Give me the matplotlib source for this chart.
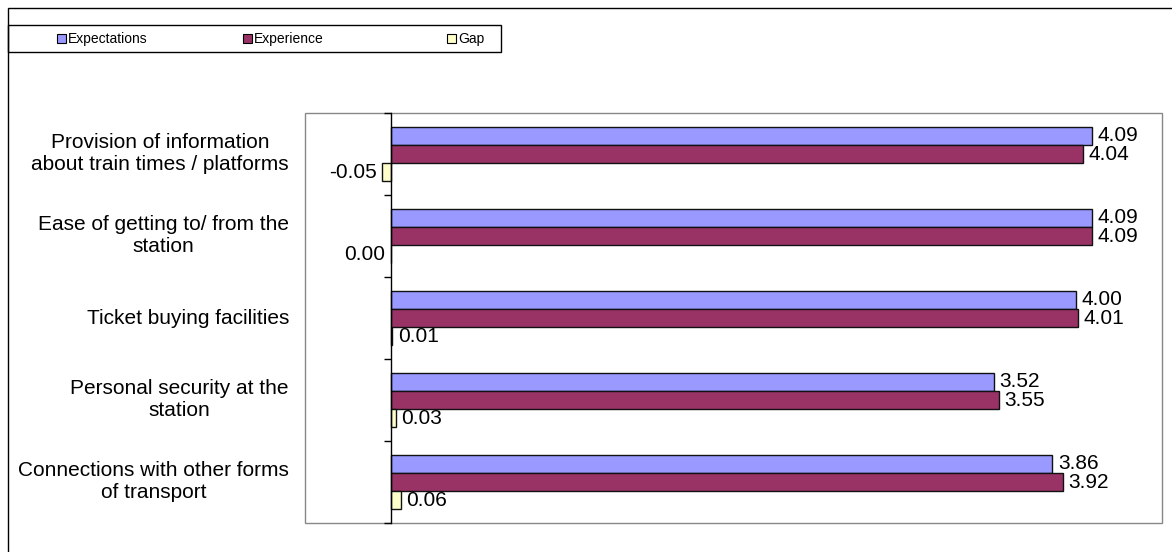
import matplotlib
matplotlib.use("Agg")
import matplotlib.pyplot as plt
import matplotlib.transforms as mtransforms
from matplotlib.patches import Rectangle
import numpy as np

plt.rcParams['font.family'] = ['Liberation Sans', 'DejaVu Sans']

# Data
categories = [
    "Provision of information\nabout train times / platforms",
    "Ease of getting to/ from the\nstation",
    "Ticket buying facilities",
    "Personal security at the\nstation",
    "Connections with other forms\nof transport",
]
expectations = [4.09, 4.09, 4.00, 3.52, 3.86]
experience = [4.04, 4.09, 4.01, 3.55, 3.92]
gap = [-0.05, 0.00, 0.01, 0.03, 0.06]
series_names = ["Expectations", "Experience", "Gap"]
series_colors = ["#9999FF", "#993366", "#FFFFCC"]

W, H = 1172, 552
fig = plt.figure(figsize=(W / 100, H / 100), dpi=100)

# Outer chart frame
fig.patches.append(Rectangle((8 / W, -0.05), 1.1, 1 - 8 / H + 0.05,
                             transform=fig.transFigure, fill=False,
                             edgecolor="black", linewidth=1.0))

# Plot area
left, right, top, bottom = 305, 1162, 113, 523
ax = fig.add_axes([left / W, 1 - bottom / H, (right - left) / W, (bottom - top) / H])
ax.patch.set_edgecolor("#888888")
ax.patch.set_linewidth(1.0)

y = np.arange(len(categories))
h = 0.22
offsets = [-h, 0.0, h]
all_series = [expectations, experience, gap]

for vals, off, col in zip(all_series, offsets, series_colors):
    bars = ax.barh(y + off, vals, height=h, color=col, edgecolor="#111111",
                   linewidth=1.0, zorder=3)
    for b, v in zip(bars, vals):
        cy = b.get_y() + b.get_height() / 2
        if v > 0:
            ax.annotate(f"{v:.2f}", xy=(v, cy), xytext=(4, 0),
                        textcoords="offset points", ha="left", va="center",
                        fontsize=15, zorder=4)
        else:
            ax.annotate(f"{v:.2f}", xy=(v, cy), xytext=(-4, 0),
                        textcoords="offset points", ha="right", va="center",
                        fontsize=15, zorder=4)

ax.set_xlim(-0.5, 4.5)
ax.set_ylim(len(categories) - 0.5, -0.5)

for s in ["top", "right", "bottom"]:
    ax.spines[s].set_visible(False)
ax.spines["left"].set_position(("data", 0))
ax.spines["left"].set_color("black")
ax.spines["left"].set_linewidth(1.0)
ax.spines["left"].set_zorder(5)

ax.set_xticks([])
ax.set_yticks(np.arange(len(categories) + 1) - 0.5)
ax.set_yticklabels([])
ax.tick_params(axis="y", direction="out", length=5, width=1.0, color="black")

# Category labels
trans = mtransforms.blended_transform_factory(fig.transFigure, ax.transData)
for yi, lab in zip(y, categories):
    ax.text(289 / W, yi, lab, transform=trans, ha="right", va="center",
            multialignment="center", fontsize=15, linespacing=1.2)

# Legend box
lx0, ly0, lx1, ly1 = 8, 25, 501, 52
fig.patches.append(Rectangle((lx0 / W, 1 - ly1 / H), (lx1 - lx0) / W, (ly1 - ly0) / H,
                             transform=fig.transFigure, fill=False,
                             edgecolor="black", linewidth=1.0))
marker_x = [57, 243, 447]
cy = 38
for mx, name, col in zip(marker_x, series_names, series_colors):
    fig.patches.append(Rectangle((mx / W, 1 - (cy + 5) / H), 9 / W, 9 / H,
                                 transform=fig.transFigure, facecolor=col,
                                 edgecolor="black", linewidth=0.8))
    fig.text((mx + 11) / W, 1 - (cy + 0.5) / H, name, ha="left", va="center",
             fontsize=10)

fig.savefig("out.png", dpi=100)
